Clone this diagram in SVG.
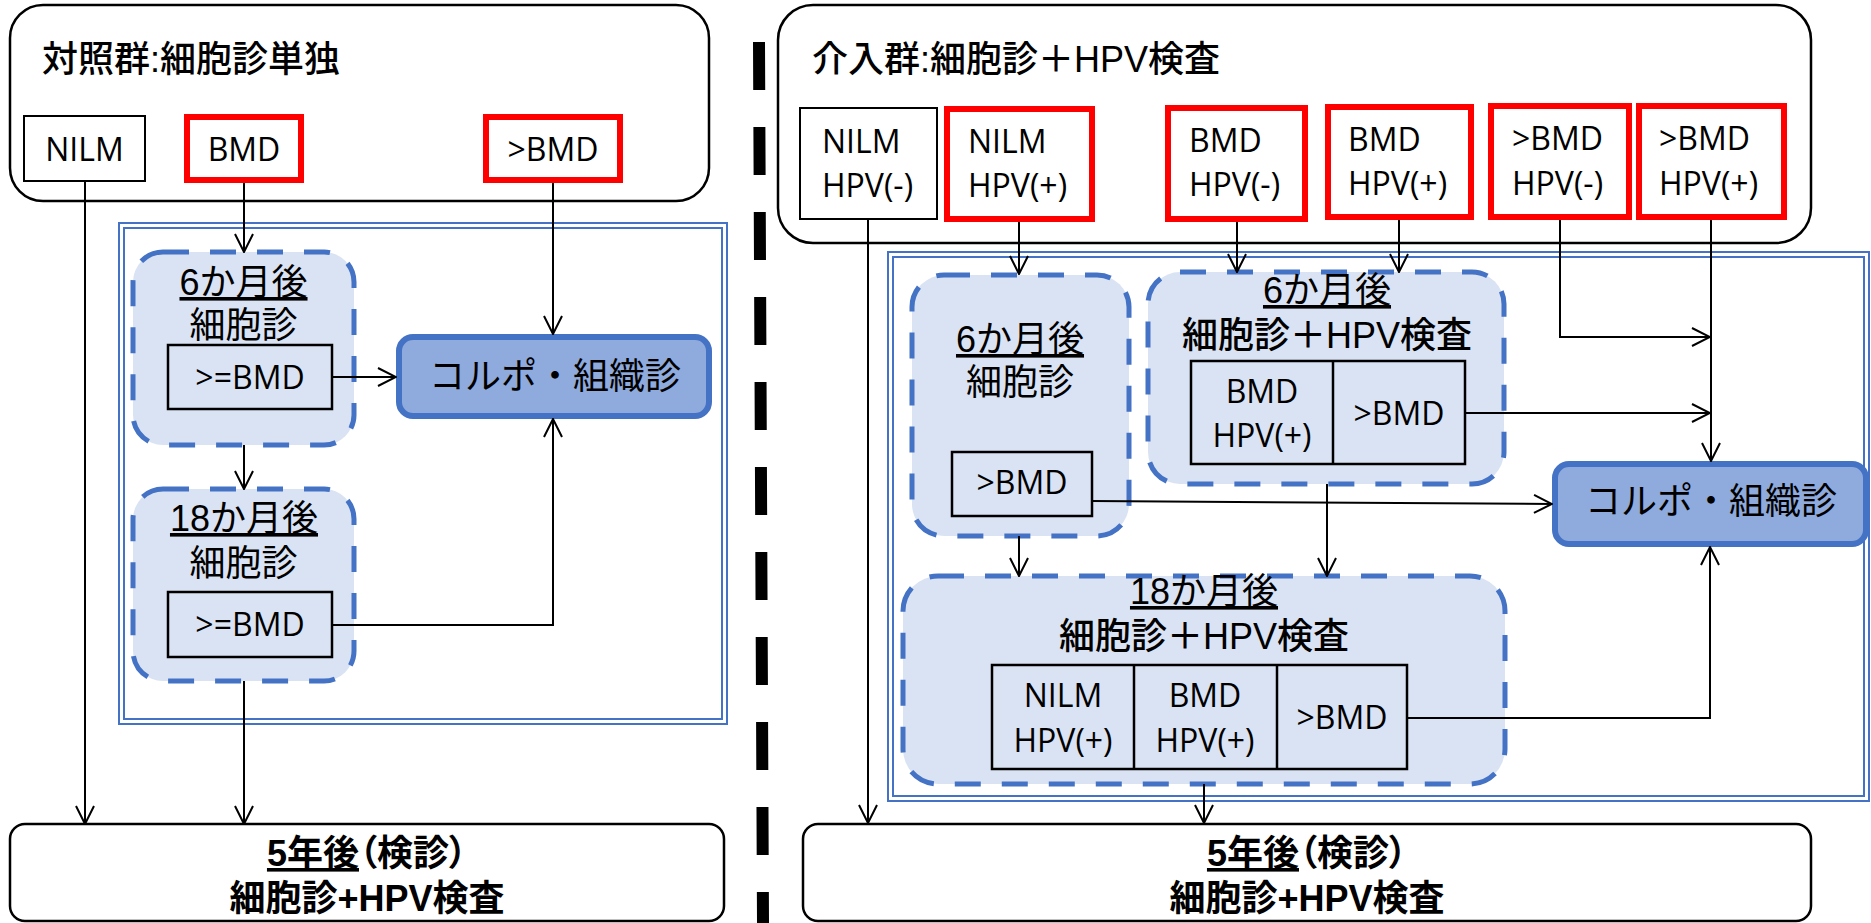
<svg xmlns="http://www.w3.org/2000/svg" width="1871" height="923" viewBox="0 0 1871 923">
<defs>
<marker id="arr" viewBox="0 0 20 20" refX="19" refY="10" markerWidth="20" markerHeight="20" markerUnits="userSpaceOnUse" orient="auto">
<path d="M1,1 L19,10 L1,19" fill="none" stroke="#000" stroke-width="2"/>
</marker>
<style>
.t{font-family:"Open Sans","Noto Sans CJK JP",sans-serif;fill:#000}
.j{font-family:"Liberation Sans","Noto Sans CJK JP","Noto Sans CJK SC",sans-serif;fill:#000}
.lat{font-size:32px}
.cjk{font-size:36px}
.ttl{font-size:36px;font-weight:500}
.bold{font-size:36px;font-weight:bold}
.m{text-anchor:middle}
.u{text-decoration:underline}
.palt{font-feature-settings:"palt"}
.grp{fill:#fff;stroke:#000;stroke-width:2.5}
.box{fill:#fff;stroke:#000;stroke-width:2}
.red{fill:#fff;stroke:#FF0000;stroke-width:6}
.dash{fill:#DAE3F3;stroke:#4472C4;stroke-width:5;stroke-dasharray:26 21}
.cell{fill:none;stroke:#000;stroke-width:2.5}
.colpo{fill:#8FAADC;stroke:#4472C4;stroke-width:6}
.dbl{fill:none;stroke:#4472C4;stroke-width:2}
.c{stroke:#000;stroke-width:2;fill:none;marker-end:url(#arr)}
</style>
</defs>
<rect width="1871" height="923" fill="#fff"/>

<!-- divider -->
<line id="divider" x1="759" y1="42" x2="763" y2="923" stroke="#000" stroke-width="12" stroke-dasharray="48 37"/>

<!-- LEFT: control group -->
<g id="control-group">
<rect class="grp" x="10" y="5" width="699" height="196" rx="33"/>
<text class="j ttl" x="42" y="72">対照群:細胞診単独</text>
</g>
<g id="c-nilm">
<rect class="box" x="24" y="116" width="121" height="65"/>
<text class="t lat m" x="84.5" y="161">NILM</text>
</g>
<g id="c-bmd">
<rect class="red" x="187" y="117" width="114" height="63"/>
<text class="t lat m" x="244" y="161">BMD</text>
</g>
<g id="c-gtbmd">
<rect class="red" x="486" y="117" width="134" height="63"/>
<text class="t lat m" x="553" y="161">&gt;BMD</text>
</g>
<g id="c-frame">
<rect class="dbl" x="119" y="223" width="608" height="501"/>
<rect class="dbl" x="124" y="228" width="598" height="491"/>
</g>
<g id="c-6m">
<rect class="dash" x="133" y="252" width="221" height="193" rx="30"/>
<text class="j cjk m" x="243.5" y="295"><tspan class="u">6か月後</tspan></text>
<text class="j cjk m" x="243.5" y="338">細胞診</text>
<rect class="cell" x="168" y="345" width="164" height="64"/>
<text class="t lat m" x="250" y="389">&gt;=BMD</text>
</g>
<g id="c-colpo">
<rect class="colpo" x="399" y="337" width="310" height="79" rx="14"/>
<text class="j cjk m" x="555" y="389">コルポ・組織診</text>
</g>
<g id="c-18m">
<rect class="dash" x="133" y="489" width="221" height="192" rx="30"/>
<text class="j cjk m" x="244" y="531"><tspan class="u">18か月後</tspan></text>
<text class="j cjk m" x="243.5" y="576">細胞診</text>
<rect class="cell" x="168" y="592" width="164" height="65"/>
<text class="t lat m" x="250" y="636">&gt;=BMD</text>
</g>
<g id="c-5y">
<rect class="grp" x="10" y="824" width="714" height="97" rx="15"/>
<text class="j bold m" x="367" y="866"><tspan class="u">5年後</tspan><tspan class="palt">（</tspan>検診<tspan class="palt">）</tspan></text>
<text class="j bold m" x="367" y="911">細胞診+HPV検査</text>
</g>

<!-- RIGHT: intervention group -->
<g id="intervention-group">
<rect class="grp" x="778" y="5" width="1033" height="238" rx="35"/>
<text class="j ttl" x="812" y="72">介入群:細胞診＋HPV検査</text>
</g>
<g id="i-nilm-neg">
<rect class="box" x="800" y="108" width="137" height="111"/>
<text class="t lat" x="822" y="153">NILM</text>
<text class="t lat" x="822" y="197">HPV(-)</text>
</g>
<g id="i-nilm-pos">
<rect class="red" x="947" y="109" width="145" height="110"/>
<text class="t lat" x="968" y="153">NILM</text>
<text class="t lat" x="968" y="197">HPV(+)</text>
</g>
<g id="i-bmd-neg">
<rect class="red" x="1168" y="108" width="137" height="111"/>
<text class="t lat" x="1189" y="152">BMD</text>
<text class="t lat" x="1189" y="196">HPV(-)</text>
</g>
<g id="i-bmd-pos">
<rect class="red" x="1328" y="107" width="143" height="110"/>
<text class="t lat" x="1348" y="151">BMD</text>
<text class="t lat" x="1348" y="195">HPV(+)</text>
</g>
<g id="i-gtbmd-neg">
<rect class="red" x="1491" y="106" width="138" height="111"/>
<text class="t lat" x="1512" y="150">&gt;BMD</text>
<text class="t lat" x="1512" y="195">HPV(-)</text>
</g>
<g id="i-gtbmd-pos">
<rect class="red" x="1639" y="106" width="145" height="111"/>
<text class="t lat" x="1659" y="150">&gt;BMD</text>
<text class="t lat" x="1659" y="195">HPV(+)</text>
</g>
<g id="i-frame">
<rect class="dbl" x="888" y="252" width="981" height="549"/>
<rect class="dbl" x="893" y="257" width="971" height="539"/>
</g>
<g id="i-6m-cyto">
<rect class="dash" x="912" y="275" width="217" height="261" rx="32"/>
<text class="j cjk m" x="1020" y="352"><tspan class="u">6か月後</tspan></text>
<text class="j cjk m" x="1020" y="395">細胞診</text>
<rect class="cell" x="952" y="452" width="140" height="64"/>
<text class="t lat m" x="1022" y="494">&gt;BMD</text>
</g>
<g id="i-6m-hpv">
<rect class="dash" x="1148" y="272" width="356" height="212" rx="32"/>
<text class="j cjk m" x="1327" y="303"><tspan class="u">6か月後</tspan></text>
<text class="j ttl m" x="1327" y="348">細胞診＋HPV検査</text>
<rect class="cell" x="1191" y="361" width="274" height="103"/>
<line class="cell" x1="1333" y1="361" x2="1333" y2="464"/>
<text class="t lat m" x="1262" y="403">BMD</text>
<text class="t lat m" x="1262" y="447">HPV(+)</text>
<text class="t lat m" x="1399" y="425">&gt;BMD</text>
</g>
<g id="i-colpo">
<rect class="colpo" x="1555" y="464" width="311" height="80" rx="14"/>
<text class="j cjk m" x="1711" y="514">コルポ・組織診</text>
</g>
<g id="i-18m">
<rect class="dash" x="903" y="576" width="602" height="208" rx="35"/>
<text class="j cjk m" x="1204" y="604"><tspan class="u">18か月後</tspan></text>
<text class="j ttl m" x="1204" y="649">細胞診＋HPV検査</text>
<rect class="cell" x="992" y="665" width="415" height="104"/>
<line class="cell" x1="1134" y1="665" x2="1134" y2="769"/>
<line class="cell" x1="1277" y1="665" x2="1277" y2="769"/>
<text class="t lat m" x="1063" y="707">NILM</text>
<text class="t lat m" x="1063" y="752">HPV(+)</text>
<text class="t lat m" x="1205" y="707">BMD</text>
<text class="t lat m" x="1205" y="752">HPV(+)</text>
<text class="t lat m" x="1342" y="729">&gt;BMD</text>
</g>
<g id="i-5y">
<rect class="grp" x="803" y="824" width="1008" height="97" rx="15"/>
<text class="j bold m" x="1307" y="866"><tspan class="u">5年後</tspan><tspan class="palt">（</tspan>検診<tspan class="palt">）</tspan></text>
<text class="j bold m" x="1307" y="911">細胞診+HPV検査</text>
</g>

<g id="connectors">
<path class="c" d="M85,181 V824"/>
<path class="c" d="M244,183 V252"/>
<path class="c" d="M553,183 V334"/>
<path class="c" d="M332,377 H396"/>
<path class="c" d="M244,445 V489"/>
<path class="c" d="M332,625 H553 V419"/>
<path class="c" d="M244,681 V824"/>
<path class="c" d="M868,219 V823"/>
<path class="c" d="M1019,222 V274"/>
<path class="c" d="M1237,222 V272"/>
<path class="c" d="M1399,220 V272"/>
<path class="c" d="M1560,220 V337 H1710"/>
<path class="c" d="M1711,220 V461"/>
<path class="c" d="M1465,413 H1710"/>
<path class="c" d="M1092,501 L1552,504"/>
<path class="c" d="M1019,536 V576"/>
<path class="c" d="M1327,484 V576"/>
<path class="c" d="M1407,718 H1710 V547"/>
<path class="c" d="M1204,784 V823"/>
</g>
</svg>
